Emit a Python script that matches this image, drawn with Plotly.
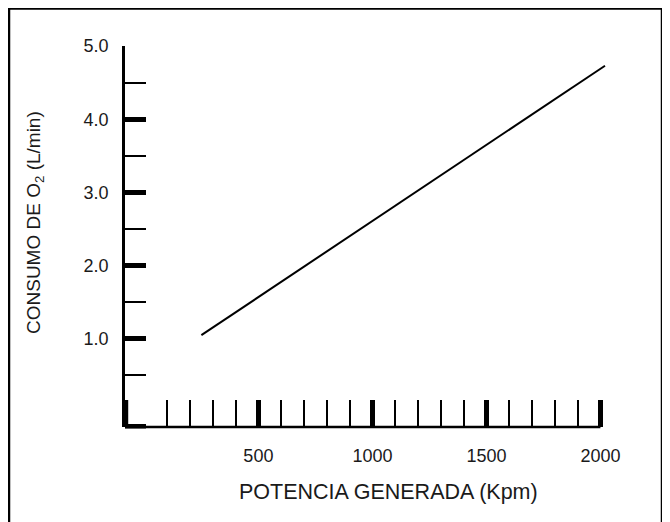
import plotly.graph_objects as go

# Data
potencia = [250, 2020]          # Kpm
consumo = [1.05, 4.73]          # L/min

x_major = [500, 1000, 1500, 2000]
x_major_labels = ["500", "1000", "1500", "2000"]
x_minor = [100, 200, 300, 400, 600, 700, 800, 900, 1100, 1200, 1300, 1400,
           1600, 1700, 1800, 1900]
y_major = [1, 2, 3, 4, 5]
y_major_labels = ["1.0", "2.0", "3.0", "4.0", "5.0"]
y_minor = [0.5, 1.5, 2.5, 3.5, 4.5]

x_title = "POTENCIA GENERADA (Kpm)"
y_title = "CONSUMO DE O<sub>2</sub> (L/min)"

X0, X1 = -85, 2042
Y0, Y1 = -0.205, 5.0

L, T, W, H = 117, 38, 485, 381
FIG_W, FIG_H = 670, 522
XT_LEN, YT_LEN = 27, 21

fig = go.Figure()
fig.add_trace(go.Scatter(x=potencia, y=consumo, mode="lines",
                         line=dict(color="black", width=2), showlegend=False,
                         hoverinfo="skip"))

tick_font = dict(family="Liberation Sans Narrow, Arial Narrow, Liberation Sans, Arial, sans-serif",
                 size=18, color="#1a1a1a")
title_font_x = dict(family="Liberation Sans, Arial, sans-serif", size=21.5, color="#1a1a1a")
title_font_y = dict(family="Liberation Sans, Arial, sans-serif", size=19, color="#1a1a1a")

fig.update_xaxes(
    range=[X0, X1], showgrid=False, zeroline=False, showline=False,
    tickmode="array", tickvals=x_major, ticktext=x_major_labels,
    ticks="inside", ticklen=XT_LEN, tickwidth=4.5, tickcolor="black",
    minor=dict(tickmode="array", tickvals=x_minor, ticks="inside", ticklen=XT_LEN,
               tickwidth=2, tickcolor="black", showgrid=False),
    tickfont=tick_font, ticklabelstandoff=16,
)
fig.update_yaxes(
    range=[Y0, Y1], showgrid=False, zeroline=False, showline=True,
    linecolor="black", linewidth=2.5,
    tickmode="array", tickvals=y_major, ticktext=y_major_labels,
    ticks="inside", ticklen=YT_LEN, tickwidth=4.5, tickcolor="black",
    minor=dict(tickmode="array", tickvals=y_minor, ticks="inside", ticklen=YT_LEN,
               tickwidth=2, tickcolor="black", showgrid=False),
    tickfont=tick_font, ticklabelstandoff=10,
)

def px_x(p):
    return (p - L) / W

def px_y(p):
    return (T + H - p) / H

shapes = [
    # x baseline from axis corner to 2000
    dict(type="line", xref="x", yref="paper", x0=X0, x1=2000, y0=0, y1=0,
         line=dict(color="black", width=2.5)),
    # thick corner tick (vertical)
    dict(type="line", xref="paper", yref="paper", x0=0.002, x1=0.002,
         y0=0, y1=XT_LEN / H, line=dict(color="black", width=4.5)),
    # thick corner tick (horizontal)
    dict(type="line", xref="paper", yref="paper", x0=0, x1=YT_LEN / W,
         y0=0.002, y1=0.002, line=dict(color="black", width=4.5)),
    # outer frame
    dict(type="rect", xref="paper", yref="paper", x0=px_x(1), x1=px_x(654),
         y0=px_y(535), y1=px_y(0.5), line=dict(color="black", width=2.5),
         fillcolor="rgba(0,0,0,0)", layer="below"),
]

annotations = [
    dict(text=x_title, xref="paper", yref="paper", x=px_x(380), y=px_y(484),
         showarrow=False, font=title_font_x, xanchor="center", yanchor="middle"),
    dict(text=y_title, xref="paper", yref="paper", x=px_x(27), y=px_y(215),
         showarrow=False, font=title_font_y, textangle=-90,
         xanchor="center", yanchor="middle"),
]

fig.update_layout(
    width=FIG_W, height=FIG_H,
    margin=dict(l=L, r=FIG_W - L - W, t=T, b=FIG_H - T - H, pad=0),
    paper_bgcolor="white", plot_bgcolor="white",
    shapes=shapes, annotations=annotations, showlegend=False,
)

fig.write_html("out.html")
